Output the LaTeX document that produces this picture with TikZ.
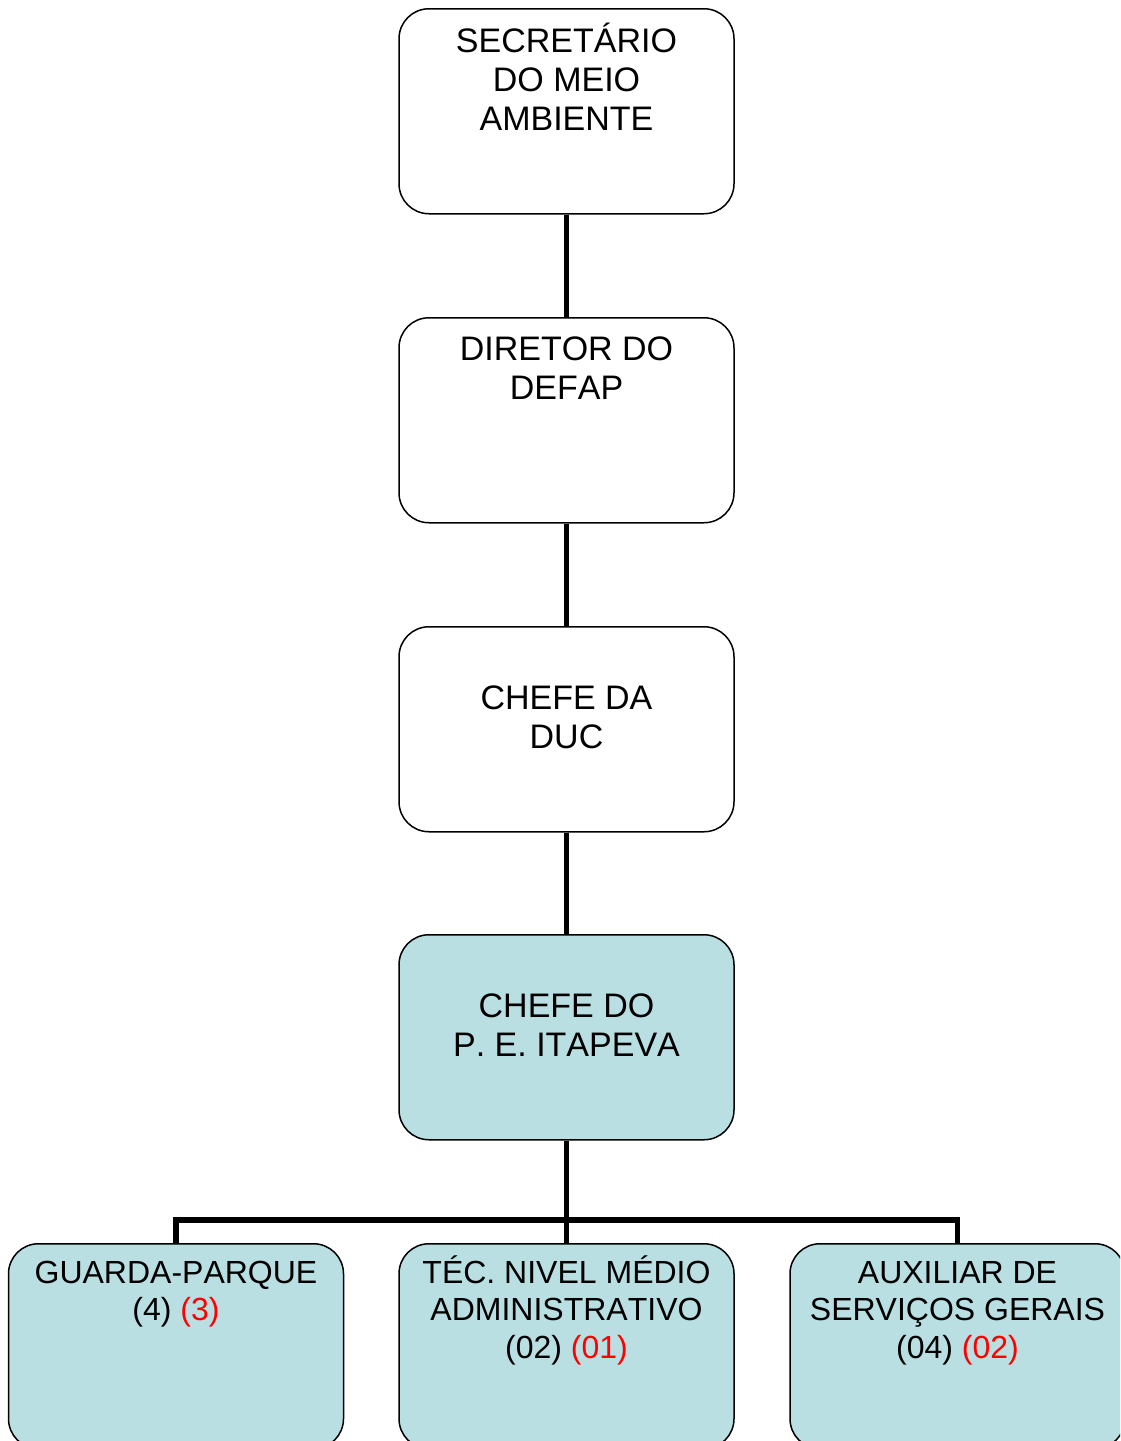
\documentclass[tikz,border=0pt]{standalone}
\usepackage{fontspec}
\setmainfont[Kerning=Off]{Liberation Sans}
\definecolor{parkfill}{RGB}{185,223,227}
% centred lines whose baseline is that of the first line
\newcommand\boxlines[1]{\begin{tabular}[t]{@{}c@{}}#1\end{tabular}}

\begin{document}
\begin{tikzpicture}[x=1pt,y=-1pt,
  orgbox/.style={draw=black, line width=1.5pt, rounded corners=30pt,
    minimum width=335pt, minimum height=205pt, inner sep=0pt, anchor=north},
  parkbox/.style={orgbox, fill=parkfill},
  bigtext/.style={font=\fontsize{34}{39}\selectfont, inner sep=0pt, anchor=base},
  smalltext/.style={font=\fontsize{32}{37.5}\selectfont, inner sep=0pt, anchor=base},
  link/.style={line width=5.5pt, line join=miter}
]
\clip (0,0) rectangle (1120,1441);
\fill[white] (0,0) rectangle (1120,1441);

% hierarchy boxes
\node[orgbox]  (sec) at (566.5,8)    {};
\node[orgbox]  (dir) at (566.5,317)  {};
\node[orgbox]  (duc) at (566.5,626)  {};
\node[parkbox] (pe)  at (566.5,934)  {};
\node[parkbox] (gp)  at (176,1243)   {};
\node[parkbox] (tec) at (566.5,1243) {};
\node[parkbox] (aux) at (957.5,1243) {};

% connectors
\coordinate (bus) at (0,1220);
\draw[link] (sec.south) -- (dir.north);
\draw[link] (dir.south) -- (duc.north);
\draw[link] (duc.south) -- (pe.north);
\draw[link] (pe.south) -- (tec.north);
\draw[link] (gp.north) -- (gp.north |- bus) -- (aux.north |- bus) -- (aux.north);

% labels
\node[bigtext] (sec-t) at (566.5,52)  {\boxlines{SECRETÁRIO\\DO MEIO\\AMBIENTE}};
\node[bigtext] (dir-t) at (566.5,360) {\boxlines{DIRETOR DO\\DEFAP}};
\node[bigtext] (duc-t) at (566.5,709) {\boxlines{CHEFE DA\\DUC}};
\node[bigtext] (pe-t)  at (566.5,1017) {\boxlines{CHEFE DO\\P. E. ITAPEVA}};
\node[smalltext] (gp-t)  at (176,1283)   {\boxlines{GUARDA-PARQUE\\(4) \textcolor{red}{(3)}}};
\node[smalltext] (tec-t) at (566.5,1283) {\boxlines{TÉC. NIVEL MÉDIO\\ADMINISTRATIVO\\(02) \textcolor{red}{(01)}}};
\node[smalltext] (aux-t) at (957.5,1283) {\boxlines{AUXILIAR DE\\SERVIÇOS GERAIS\\(04) \textcolor{red}{(02)}}};
\end{tikzpicture}
\end{document}
